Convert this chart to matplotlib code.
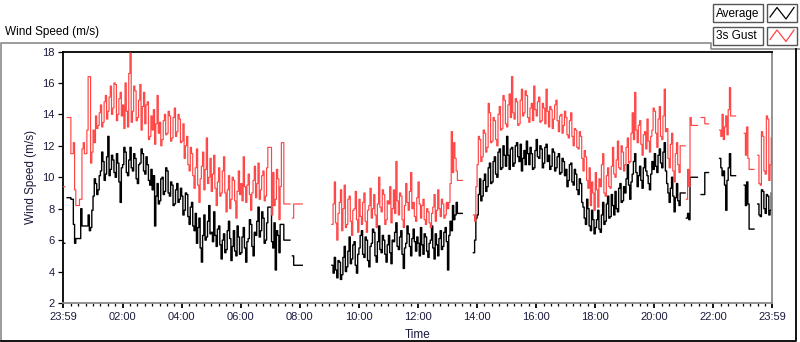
import numpy as np
import matplotlib
matplotlib.use("Agg")
import matplotlib.pyplot as plt
from matplotlib.lines import Line2D
from matplotlib.patches import Rectangle

nan = float("nan")

# ---------------- data (2.5-minute samples from midnight) ----------------
sample_step_min = 2.5
avg_speed = [
    # 00h
    5.8, nan, nan, 8.7, 8.7, 8.7, 8.6, 8.6, 7.0, 5.8, 6.1, 6.1, 6.1, 6.1, 8.0, 6.9, 6.9, 6.9, 6.9, 6.9, 7.6, 6.6, 6.8, 7.9,
    # 01h
    8.8, 9.9, 9.6, 8.9, 9.2, 10.1, 10.4, 11.6, 11.0, 9.8, 10.2, 11.3, 12.6, 10.1, 10.5, 11.4, 11.1, 10.3, 10.0, 11.5, 10.9, 9.7, 8.4, 10.6,
    # 02h
    10.8, 11.9, 11.6, 10.3, 10.1, 11.1, 11.9, 10.6, 10.4, 11.5, 11.2, 9.9, 9.6, 10.8, 10.9, 11.8, 11.5, 10.4, 10.2, 11.3, 10.8, 9.8, 9.5, 10.5,
    # 03h
    9.2, 10.1, 6.9, 8.8, 9.6, 8.3, 8.5, 9.9, 10.0, 8.9, 9.1, 10.6, 10.4, 9.0, 8.8, 9.7, 9.5, 8.2, 8.3, 9.2, 9.6, 8.4, 8.6, 9.3,
    # 04h
    8.8, 7.6, 7.9, 9.0, 8.9, 7.5, 7.0, 8.1, 8.4, 6.9, 6.6, 7.7, 5.8, 6.8, 7.4, 5.5, 4.6, 6.3, 7.6, 6.0, 6.2, 7.2, 8.2, 6.4,
    # 05h
    6.5, 5.9, 7.8, 6.3, 5.6, 6.7, 6.9, 5.7, 4.8, 6.0, 6.4, 5.2, 5.4, 6.6, 7.2, 6.1, 4.7, 5.6, 6.6, 5.3, 5.0, 6.9, 6.2, 5.1,
    # 06h
    5.2, 6.2, 6.8, 5.5, 4.6, 5.9, 6.1, 7.3, 7.0, 5.6, 5.0, 6.5, 6.3, 7.2, 8.1, 6.2, 6.6, 7.8, 7.4, 5.8, 6.0, 7.1, 8.1, 8.1,
    # 07h
    8.1, 5.9, 5.5, 7.1, 4.1, 6.6, 6.3, 5.2, 7.0, 7.0, 7.0, 6.0, 6.0, 6.0, 6.0, 6.0, nan, nan, 5.0, 4.4, 4.4, 4.4, 4.4, 4.4,
    # 08h
    4.4, 4.4, nan, nan, nan, nan, nan, nan, nan, nan, nan, nan, nan, nan, nan, nan, nan, nan, nan, nan, nan, nan, nan, nan,
    # 09h
    nan, nan, 4.4, 3.9, 4.9, 4.1, 3.6, 4.7, 4.6, 3.5, 3.8, 4.9, 5.6, 4.0, 4.3, 5.3, 6.2, 4.5, 4.8, 5.7, 5.9, 4.4, 3.9, 5.1,
    # 10h
    5.5, 6.3, 6.6, 5.1, 4.9, 6.2, 6.0, 4.7, 4.3, 5.6, 5.8, 6.7, 6.5, 5.0, 4.6, 5.9, 6.9, 5.4, 5.2, 6.3, 6.0, 5.1, 4.6, 5.7,
    # 11h
    6.3, 5.2, 4.5, 6.0, 5.9, 6.5, 7.1, 5.6, 5.4, 6.2, 6.6, 5.1, 4.2, 5.5, 5.8, 6.9, 6.4, 5.6, 5.0, 6.1, 6.7, 5.9, 5.3, 6.2,
    # 12h
    5.8, 5.0, 6.8, 5.7, 5.1, 6.4, 6.2, 5.3, 4.9, 5.8, 6.0, 6.9, 5.5, 4.8, 6.4, 5.7, 5.0, 6.1, 6.6, 5.4, 5.6, 6.5, 6.8, 5.9,
    # 13h
    4.1, 6.3, 7.2, 6.6, 8.2, 7.3, 7.6, 8.4, 7.7, 7.7, 7.7, 7.7, nan, nan, nan, nan, nan, nan, nan, nan, nan, 5.2, 6.0, 7.4,
    # 14h
    7.6, 8.9, 9.9, 8.5, 8.8, 9.8, 10.2, 9.1, 9.4, 10.6, 10.9, 9.6, 9.7, 11.0, 11.3, 10.2, 10.0, 11.6, 11.8, 10.5, 10.6, 12.0, 11.4, 10.7,
    # 15h
    12.6, 11.4, 10.5, 11.8, 11.9, 10.7, 10.9, 12.0, 12.2, 11.3, 11.0, 12.1, 10.4, 11.2, 11.7, 10.8, 12.3, 11.5, 10.8, 11.9, 11.5, 10.5, 10.6, 11.7,
    # 16h
    12.4, 11.3, 11.2, 12.0, 11.8, 10.6, 10.9, 11.9, 12.1, 11.0, 11.4, 10.5, 10.7, 11.8, 11.6, 10.4, 10.6, 11.3, 11.5, 10.2, 10.3, 11.2, 11.0, 10.1,
    # 17h
    10.5, 9.4, 9.8, 10.8, 10.9, 9.7, 9.5, 10.5, 10.2, 9.2, 8.9, 9.9, 9.6, 8.4, 8.1, 7.4, 7.0, 8.6, 8.0, 6.9, 6.6, 7.9, 7.3, 6.4,
    # 18h
    6.8, 7.3, 7.9, 6.7, 6.5, 7.6, 8.4, 7.0, 7.2, 8.3, 8.8, 7.4, 7.5, 8.9, 8.2, 7.6, 9.1, 8.0, 7.8, 9.3, 9.6, 8.4, 8.5, 9.4,
    # 19h
    9.0, 9.9, 10.8, 9.5, 8.6, 9.7, 10.2, 11.0, 11.5, 10.3, 9.4, 10.1, 10.7, 9.8, 9.3, 10.6, 11.2, 10.4, 10.1, 9.6, 9.2, 10.2, 11.0, 10.5,
    # 20h
    11.5, 10.7, 10.3, 11.4, 11.8, 10.9, 10.6, 11.6, 12.2, 10.4, 9.6, 9.0, 8.4, 9.3, 10.0, 8.8, 7.8, 8.7, 9.6, 8.5, 8.2, 9.0, 9.0, 9.0,
    # 21h
    9.0, nan, 7.4, 7.7, 7.3, 10.0, 10.0, 10.0, 10.0, 10.0, 10.0, nan, nan, nan, 8.9, 8.9, 8.9, 10.3, 10.3, 10.3, nan, nan, nan, nan,
    # 22h
    nan, nan, nan, nan, nan, 11.2, 10.6, 10.1, 10.4, 9.5, 7.9, 9.8, 10.6, 11.5, 10.1, 10.1, 10.1, 10.1, nan, nan, nan, nan, nan, nan,
    # 23h
    nan, 9.5, 8.2, 9.7, 8.3, 6.7, 6.7, 6.7, 6.7, nan, nan, nan, 8.3, 7.6, 7.5, 9.2, 9.1, 8.0, 7.7, 8.9, 8.8, 7.6, 7.9, 9.0,
]
gust_speed = [
    # 00h
    9.4, nan, nan, 13.8, 13.8, 13.8, 11.5, 11.5, 12.2, 9.2, 8.2, 8.2, 8.2, 8.6, 8.6, 11.8, 12.2, 11.5, 11.5, 13.0, 16.4, 16.4, 10.9, 11.6,
    # 01h
    13.0, 12.2, 13.9, 13.1, 13.3, 14.1, 14.6, 13.2, 13.5, 14.8, 15.2, 13.7, 14.2, 15.1, 15.8, 14.0, 14.4, 16.0, 15.9, 13.6, 14.0, 15.0, 15.4, 13.9,
    # 02h
    14.6, 13.1, 16.0, 14.2, 13.2, 16.6, 17.9, 13.5, 14.2, 15.8, 15.5, 13.6, 13.8, 14.9, 15.9, 13.0, 14.5, 15.4, 13.4, 14.6, 14.8, 12.4, 12.6, 13.9,
    # 03h
    13.0, 14.3, 12.1, 13.4, 15.2, 12.8, 13.5, 12.0, 12.4, 13.6, 14.0, 12.7, 12.8, 14.2, 13.9, 12.3, 12.5, 13.8, 14.4, 12.6, 12.9, 14.0, 13.7, 12.2,
    # 04h
    12.3, 13.4, 11.2, 12.0, 12.6, 10.8, 10.4, 11.9, 11.5, 10.1, 9.3, 10.6, 11.8, 9.5, 8.4, 9.9, 10.7, 11.6, 9.2, 10.5, 12.5, 9.6, 10.0, 11.2,
    # 05h
    9.1, 10.2, 11.4, 9.3, 8.2, 9.7, 10.6, 8.8, 9.0, 10.4, 11.3, 9.0, 7.8, 9.2, 10.1, 8.0, 8.6, 10.0, 9.8, 8.5, 7.4, 9.1, 10.4, 8.9,
    # 06h
    9.6, 8.5, 11.3, 9.4, 8.4, 9.5, 10.2, 8.9, 7.9, 9.0, 9.8, 10.7, 8.7, 9.6, 10.9, 8.6, 9.2, 10.1, 10.4, 8.5, 8.8, 10.6, 11.9, 11.9,
    # 07h
    11.9, 7.6, 10.3, 8.2, 8.6, 10.5, 9.9, 7.3, 9.4, 12.2, 12.2, 8.3, 8.3, 8.3, 8.3, 8.3, nan, nan, 7.4, 8.3, 8.3, 8.3, 8.3, 8.3,
    # 08h
    8.3, 8.3, nan, nan, nan, nan, nan, nan, nan, nan, nan, nan, nan, nan, nan, nan, nan, nan, nan, nan, nan, nan, nan, nan,
    # 09h
    nan, nan, 7.0, 8.3, 9.7, 7.1, 6.0, 7.7, 8.4, 9.2, 6.6, 8.0, 9.5, 6.8, 7.0, 8.6, 8.8, 7.2, 6.3, 7.9, 8.0, 9.1, 7.3, 6.5,
    # 10h
    8.6, 7.5, 7.0, 8.4, 9.0, 7.2, 6.5, 7.9, 8.2, 9.3, 7.4, 8.0, 8.9, 7.6, 6.8, 8.3, 10.0, 8.1, 7.8, 9.2, 8.9, 7.0, 7.3, 8.5,
    # 11h
    8.3, 9.4, 7.1, 8.0, 9.2, 7.7, 11.0, 8.5, 7.6, 9.0, 8.8, 7.3, 6.8, 8.2, 9.6, 8.4, 7.9, 9.1, 10.3, 8.0, 8.4, 7.5, 7.2, 8.7,
    # 12h
    9.7, 8.3, 7.4, 8.2, 8.6, 7.3, 7.0, 8.0, 7.8, 7.1, 6.8, 7.7, 8.1, 8.9, 7.2, 7.9, 9.2, 8.0, 7.5, 8.6, 8.3, 7.4, 7.6, 8.4,
    # 13h
    8.0, 8.4, 9.6, 12.9, 10.3, 12.2, 11.2, 10.4, 9.8, 9.8, 9.8, 9.8, nan, nan, nan, nan, nan, nan, nan, nan, nan, 7.6, 7.2, 9.4,
    # 14h
    10.8, 12.6, 12.4, 11.0, 11.3, 13.0, 12.8, 11.6, 11.9, 14.7, 14.1, 12.2, 12.3, 13.8, 13.6, 12.4, 12.0, 14.0, 14.5, 13.0, 13.1, 15.2, 14.9, 13.4,
    # 15h
    13.2, 14.6, 15.3, 13.8, 16.4, 14.1, 13.7, 15.0, 14.8, 13.3, 13.4, 14.9, 15.6, 13.9, 14.1, 15.5, 15.2, 13.8, 13.5, 14.4, 14.7, 13.6, 15.8, 14.3,
    # 16h
    13.9, 14.8, 15.1, 13.5, 13.6, 14.7, 14.4, 13.4, 15.6, 14.2, 13.2, 14.5, 14.3, 13.1, 13.7, 14.6, 14.9, 13.6, 12.9, 13.9, 14.0, 12.8, 13.3, 14.2,
    # 17h
    13.8, 12.7, 12.5, 13.6, 14.1, 12.6, 12.0, 13.1, 13.0, 11.9, 11.8, 12.9, 12.6, 11.2, 10.4, 11.7, 11.3, 9.8, 9.3, 10.6, 8.2, 9.7, 9.0, 7.9,
    # 18h
    10.3, 9.2, 8.1, 9.9, 9.4, 10.8, 11.5, 9.0, 8.8, 10.1, 10.6, 9.4, 9.3, 10.7, 11.9, 10.2, 10.0, 11.1, 12.3, 10.6, 10.5, 12.0, 11.6, 10.4,
    # 19h
    10.8, 11.9, 12.5, 10.9, 11.0, 12.8, 14.1, 12.4, 15.4, 13.0, 12.2, 13.3, 13.6, 12.1, 11.4, 12.7, 12.9, 11.8, 13.7, 12.3, 11.6, 12.6, 13.0, 14.4,
    # 20h
    14.2, 12.8, 11.9, 13.7, 14.5, 12.6, 12.4, 13.9, 15.6, 12.9, 13.1, 11.2, 10.6, 12.1, 12.8, 10.4, 9.7, 11.5, 12.2, 10.8, 10.3, 12.0, 12.0, 12.0,
    # 21h
    12.0, nan, 8.6, 10.5, 9.4, 13.8, 13.3, 13.3, 13.3, 13.3, 13.3, nan, nan, nan, 13.8, 13.8, 13.8, 13.4, 13.4, 13.4, nan, nan, nan, nan,
    # 22h
    nan, nan, nan, nan, nan, 13.0, 12.6, 14.0, 12.4, 13.2, 13.9, 12.7, 14.3, 15.7, 13.9, 13.9, 13.9, 13.9, nan, nan, nan, nan, nan, nan,
    # 23h
    nan, 12.8, 11.4, 13.2, 11.2, 10.5, 10.5, 10.5, 10.5, nan, nan, nan, 11.4, 9.6, 9.5, 12.9, 12.6, 10.4, 10.2, 13.9, 13.7, 9.8, 10.8, 12.5,
]
series_names = ["Average", "3s Gust"]
x_tick_minutes = [-1, 120, 240, 360, 480, 600, 720, 840, 960, 1080, 1200, 1320, 1439]
x_tick_labels = ["23:59", "02:00", "04:00", "06:00", "08:00", "10:00", "12:00",
                 "14:00", "16:00", "18:00", "20:00", "22:00", "23:59"]
y_ticks = [2, 4, 6, 8, 10, 12, 14, 16, 18]

# ---------------- figure ----------------
W, H = 800, 342
plt.rcParams["font.family"] = ["Liberation Sans", "DejaVu Sans"]
fig = plt.figure(figsize=(W / 100, H / 100), dpi=100)
fig.patch.set_facecolor("white")

def fxy(px, py):
    return px / W, 1 - py / H

txt_col = "#1a1a3c"
ax = fig.add_axes([63 / W, 1 - 303 / H, 709 / W, 251.5 / H])
avg = np.array(avg_speed, dtype=float)
gust = np.array(gust_speed, dtype=float)
minutes = np.arange(len(avg)) * sample_step_min

ax.plot(minutes, avg, drawstyle="steps-post", color="black", lw=1.0, zorder=2)
ax.plot(minutes, gust, drawstyle="steps-post", color="#ff4444", lw=0.85, zorder=3)

ax.set_xlim(x_tick_minutes[0], x_tick_minutes[-1])
ax.set_ylim(y_ticks[0], y_ticks[-1])
ax.set_yticks(y_ticks)
ax.set_xticks(x_tick_minutes)
ax.set_xticklabels(x_tick_labels)
minor = [m for m in range(15, 1439, 15) if m not in x_tick_minutes]
ax.set_xticks(minor, minor=True)
ax.tick_params(axis="y", length=3.8, width=0.9, pad=2, labelsize=8, labelcolor=txt_col, color="black")
ax.tick_params(axis="x", which="major", length=3.8, width=1.3, pad=3, labelsize=8, labelcolor=txt_col, color="black")
ax.tick_params(axis="x", which="minor", length=2.2, width=0.9, color="black")

for s in ("top", "left"):
    ax.spines[s].set_color("black")
    ax.spines[s].set_linewidth(1.3)
for s in ("bottom", "right"):
    ax.spines[s].set_color("#8a8a8a")
    ax.spines[s].set_linewidth(1.3)

ax.set_xlabel("Time", fontsize=8.5, color=txt_col, labelpad=4.5)
ax.set_ylabel("Wind Speed (m/s)", fontsize=8.5, color=txt_col)
ax.yaxis.set_label_coords(-(63 - 37) / 709, 0.5)

# ---------------- panel frame ----------------
def fig_line(pts, color, lw):
    xs = [p[0] / W for p in pts]
    ys = [1 - p[1] / H for p in pts]
    fig.add_artist(Line2D(xs, ys, color=color, lw=lw, transform=fig.transFigure))

fig_line([(1, 340), (1, 42.5), (711, 42.5), (711, 49), (800, 49)], "#8a8a8a", 1.2)
fig_line([(1, 340.5), (796, 340.5), (796, 49)], "black", 1.3)

fig.text(5 / W, 1 - 32 / H, "Wind Speed (m/s)", fontsize=8.5, color="black", va="center", ha="left")

# ---------------- legend ----------------
leg_colors = ["black", "#ff4444"]
leg_rows = [(4.5, 22), (27, 44.5)]
for name, col, (y0, y1) in zip(series_names, leg_colors, leg_rows):
    fx0, fy0 = fxy(713, y1)
    fig.add_artist(Rectangle((fx0, fy0), (763 - 713) / W, (y1 - y0) / H, transform=fig.transFigure,
                             facecolor="white", edgecolor="#555555", lw=1.0))
    fig.text(716 / W, 1 - ((y0 + y1) / 2 + 0.5) / H, name, fontsize=8.5, color="black", va="center", ha="left")
    ix0, iy0 = fxy(767, y1)
    fig.add_artist(Rectangle((ix0, iy0), (797 - 767) / W, (y1 - y0) / H, transform=fig.transFigure,
                             facecolor="white", edgecolor="#555555", lw=1.0))
    zx = [770, 777, 786, 794]
    zy = [y1 - 5, y0 + 3, y1 - 3, y0 + 3]
    fig_line(list(zip(zx, zy)), col, 0.9)

fig.savefig("out.png", dpi=100, facecolor="white")
